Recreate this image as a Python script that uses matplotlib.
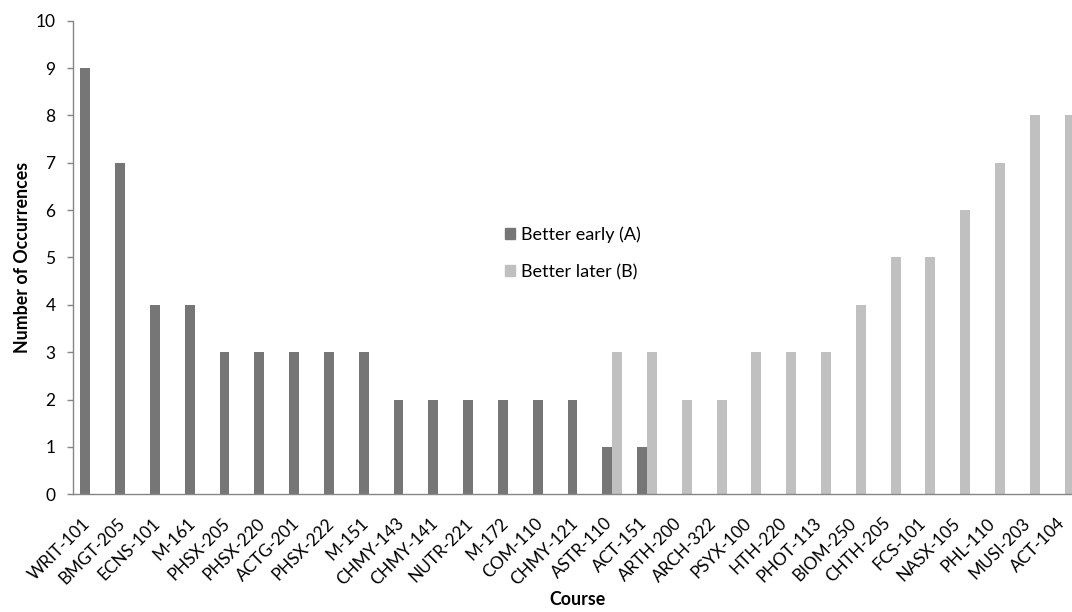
import numpy as np
import matplotlib.pyplot as plt
import matplotlib.transforms as mtransforms
from matplotlib.patches import Patch

courses = ['WRIT-101', 'BMGT-205', 'ECNS-101', 'M-161', 'PHSX-205', 'PHSX-220',
           'ACTG-201', 'PHSX-222', 'M-151', 'CHMY-143', 'CHMY-141', 'NUTR-221',
           'M-172', 'COM-110', 'CHMY-121', 'ASTR-110', 'ACT-151', 'ARTH-200',
           'ARCH-322', 'PSYX-100', 'HTH-220', 'PHOT-113', 'BIOM-250', 'CHTH-205',
           'FCS-101', 'NASX-105', 'PHL-110', 'MUSI-203', 'ACT-104']
better_early = [9, 7, 4, 4, 3, 3, 3, 3, 3, 2, 2, 2, 2, 2, 2, 1, 1,
                0, 0, 0, 0, 0, 0, 0, 0, 0, 0, 0, 0]
better_later = [0, 0, 0, 0, 0, 0, 0, 0, 0, 0, 0, 0, 0, 0, 0, 3, 3,
                2, 2, 3, 3, 3, 4, 5, 5, 6, 7, 8, 8]
yticks = list(range(0, 11))

plt.rcParams['font.family'] = ['Lato', 'DejaVu Sans']

fig = plt.figure(figsize=(10.72, 6.12), dpi=100)
ax = fig.add_axes([0.068, 0.1923, 0.9413, 0.7739])

x = np.arange(len(courses))
w = 0.285
dark = '#767676'
light = '#c0c0c0'
ax.bar(x - w / 2, better_early, w, color=dark, zorder=2)
ax.bar(x + w / 2, better_later, w, color=light, zorder=2)

ax.set_xlim(-0.5, len(courses) - 0.5)
ax.set_ylim(0, 10)
ax.set_yticks(yticks)
ax.set_xticks(x)
ax.set_xticklabels(courses, rotation=45, ha='right', va='top',
                   rotation_mode='anchor', fontsize=12.3)
ax.tick_params(axis='x', length=0, pad=12)
ax.tick_params(axis='y', length=4.5, width=1, color='#868686', pad=8, labelsize=12.5)

# nudge the slanted labels left/down like the original
shift = mtransforms.ScaledTranslation(-8 / 100, -4 / 100, fig.dpi_scale_trans)
for lab in ax.get_xticklabels():
    lab.set_transform(lab.get_transform() + shift)

for s in ['top', 'right']:
    ax.spines[s].set_visible(False)
for s in ['left', 'bottom']:
    ax.spines[s].set_color('#868686')
    ax.spines[s].set_linewidth(1)

ax.set_ylabel('Number of Occurrences', fontsize=12.8, fontweight='bold', labelpad=3)
ax.set_xlabel('Course', fontsize=12.8, fontweight='bold', labelpad=2)

handles = [Patch(color=dark), Patch(color=light)]
fig.legend(handles, ['Better early (A)', 'Better later (B)'],
           loc='upper left', bbox_to_anchor=(0.456, 0.657), frameon=False,
           handlelength=0.55, handleheight=0.55, handletextpad=0.35,
           labelspacing=1.17, fontsize=13)

fig.savefig('out.png', dpi=100)
